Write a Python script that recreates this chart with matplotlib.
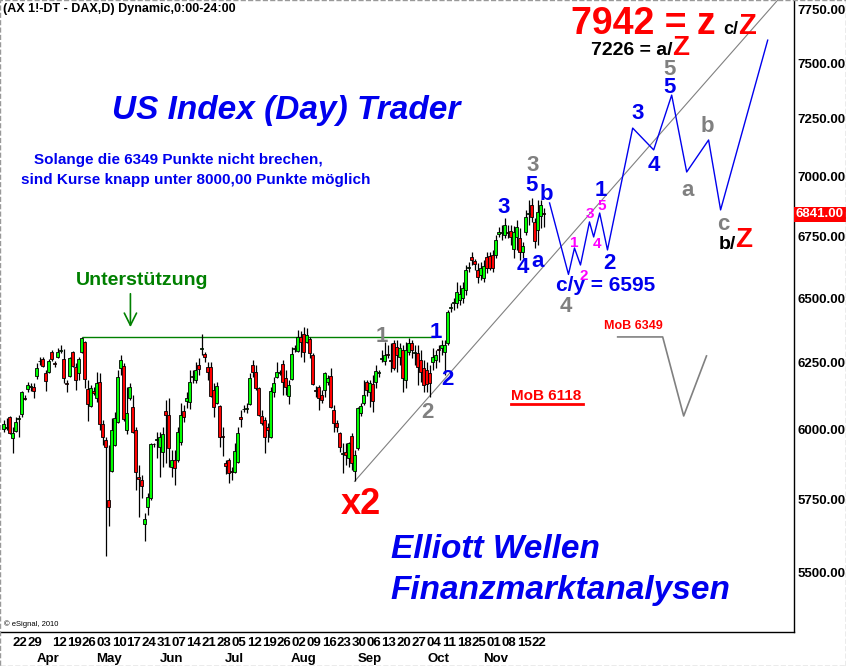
import numpy as np
import matplotlib.pyplot as plt
from matplotlib.patches import Rectangle
from matplotlib.ticker import FixedLocator, NullLocator, FuncFormatter

plt.rcParams['font.family'] = ['Liberation Sans', 'DejaVu Sans']

# daily DAX candles (bar 0 ~ 17 Mar 2010, last bar 22 Nov 2010)
opens = [6004, 6008, 6048, 5971, 5996, 6040, 6059, 6118, 6152, 6160,
         6159, 6200, 6255, 6265, 6212, 6216, 6292, 6248, 6273, 6294,
         6265, 6172, 6200, 6292, 6234, 6212, 6292, 6330, 6152, 6088,
         6142, 6118, 6178, 6022, 5964, 5750, 5853, 5946, 6029, 6230,
         6238, 6000, 6118, 6084, 6000, 5830, 5820, 5667, 5726, 5757,
         5950, 5965, 5939, 5921, 6070, 6055, 5867, 5892, 5892, 5957,
         6070, 6106, 6103, 6195, 6185, 6242, 6303, 6284, 6234, 6234,
         6148, 6099, 6088, 5978, 5881, 5892, 5853, 5849, 5885, 6048,
         6077, 6075, 6096, 6242, 6216, 6155, 6051, 6037, 6011, 5975,
         6140, 6197, 6210, 6245, 6193, 6125, 6189, 6301, 6296, 6349,
         6360, 6330, 6341, 6280, 6146, 6159, 6129, 6148, 6178, 6200,
         6073, 6026, 5989, 5912, 5921, 5900, 5978, 5853, 5935, 6062,
         6099, 6178, 6140, 6170, 6178, 6210, 6265, 6258, 6282, 6262,
         6326, 6311, 6273, 6299, 6185, 6292, 6326, 6288, 6288, 6261,
         6230, 6223, 6212, 6254, 6261, 6301, 6307, 6292, 6326, 6462,
         6482, 6482, 6494, 6502, 6533, 6619, 6665, 6649, 6613, 6593,
         6581, 6665, 6669, 6673, 6673, 6760, 6762, 6755, 6768, 6772,
         6698, 6747, 6743, 6686, 6768, 6840, 6880, 6809, 6776, 6834,
         6845]
highs = [6037, 6044, 6051, 6011, 6048, 6055, 6144, 6129, 6178, 6174,
         6174, 6250, 6273, 6273, 6223, 6265, 6299, 6258, 6307, 6318,
         6303, 6185, 6273, 6296, 6250, 6273, 6349, 6334, 6185, 6166,
         6159, 6216, 6212, 6037, 5975, 5946, 6044, 6066, 6223, 6280,
         6250, 6159, 6174, 6129, 6011, 5874, 5838, 5705, 5775, 5953,
         5953, 5993, 5993, 6011, 6110, 6118, 5928, 5928, 6011, 6099,
         6092, 6140, 6223, 6223, 6254, 6269, 6360, 6292, 6254, 6254,
         6174, 6178, 6092, 6011, 5892, 5900, 5867, 5953, 6011, 6073,
         6092, 6099, 6212, 6261, 6242, 6159, 6073, 6048, 6026, 6159,
         6197, 6254, 6223, 6261, 6223, 6185, 6311, 6318, 6376, 6372,
         6388, 6384, 6349, 6288, 6163, 6166, 6148, 6216, 6204, 6230,
         6092, 6037, 5993, 5953, 5953, 5957, 5989, 5928, 6084, 6099,
         6185, 6185, 6185, 6204, 6242, 6223, 6299, 6330, 6318, 6326,
         6337, 6337, 6326, 6318, 6330, 6345, 6337, 6318, 6318, 6299,
         6261, 6254, 6242, 6307, 6299, 6318, 6337, 6337, 6454, 6482,
         6502, 6565, 6553, 6565, 6633, 6645, 6686, 6657, 6641, 6645,
         6653, 6686, 6686, 6694, 6755, 6788, 6797, 6826, 6797, 6797,
         6792, 6817, 6784, 6727, 6859, 6901, 6910, 6826, 6901, 6901,
         6867]
lows = [5993, 6000, 5986, 5917, 5993, 5975, 6048, 6110, 6140, 6144,
        6118, 6189, 6242, 6234, 6144, 6212, 6258, 6234, 6270, 6288,
        6174, 6140, 6197, 6234, 6148, 6185, 6288, 6155, 6033, 6084,
        6129, 6103, 6000, 5946, 5558, 5660, 5849, 5942, 6026, 6204,
        6033, 5986, 6110, 5989, 5785, 5691, 5757, 5609, 5698, 5750,
        5939, 5900, 5831, 5867, 5881, 5867, 5831, 5803, 5885, 5946,
        6029, 6081, 6077, 6174, 6174, 6204, 6280, 6254, 6185, 6121,
        6048, 6096, 5939, 5906, 5842, 5810, 5820, 5845, 5881, 6011,
        6066, 6062, 6092, 6197, 6148, 6051, 6018, 5917, 5957, 5971,
        6121, 6193, 6204, 6129, 6129, 6096, 6185, 6292, 6292, 6273,
        6254, 6326, 6269, 6166, 6121, 6073, 6099, 6121, 6166, 6081,
        5993, 5993, 5921, 5845, 5874, 5867, 5856, 5815, 5928, 6051,
        6092, 6125, 6084, 6066, 6155, 6197, 6254, 6242, 6269, 6216,
        6223, 6216, 6242, 6140, 6155, 6280, 6269, 6242, 6166, 6178,
        6140, 6140, 6121, 6223, 6230, 6254, 6280, 6204, 6318, 6446,
        6454, 6462, 6474, 6482, 6513, 6605, 6633, 6613, 6561, 6573,
        6565, 6601, 6613, 6605, 6661, 6747, 6735, 6743, 6743, 6714,
        6661, 6694, 6653, 6661, 6755, 6797, 6809, 6702, 6714, 6784,
        6788]
closes = [6022, 6012, 5989, 5989, 6029, 6044, 6140, 6114, 6166, 6163,
          6144, 6230, 6258, 6238, 6182, 6258, 6265, 6245, 6292, 6297,
          6193, 6168, 6269, 6238, 6185, 6265, 6345, 6189, 6096, 6155,
          6138, 6174, 6022, 5975, 5939, 5726, 6000, 6044, 6197, 6261,
          6040, 6062, 6159, 5993, 5849, 5825, 5799, 5684, 5761, 5950,
          5948, 5968, 5975, 5986, 6055, 5935, 5892, 5863, 5993, 6055,
          6048, 6118, 6178, 6199, 6223, 6227, 6305, 6273, 6216, 6125,
          6084, 6163, 5975, 5975, 5871, 5845, 5850, 5924, 5989, 6040,
          6075, 6079, 6193, 6216, 6155, 6055, 6026, 5975, 6000, 6144,
          6174, 6216, 6214, 6178, 6159, 6166, 6284, 6305, 6349, 6330,
          6292, 6357, 6288, 6170, 6142, 6118, 6110, 6212, 6193, 6084,
          6026, 6011, 5939, 5915, 5910, 5953, 5881, 5910, 6081, 6088,
          6129, 6148, 6174, 6106, 6219, 6214, 6269, 6280, 6278, 6258,
          6230, 6280, 6307, 6193, 6299, 6326, 6299, 6292, 6234, 6216,
          6166, 6170, 6174, 6273, 6280, 6297, 6318, 6318, 6446, 6466,
          6486, 6525, 6517, 6541, 6613, 6623, 6653, 6637, 6585, 6621,
          6629, 6621, 6621, 6621, 6735, 6766, 6766, 6797, 6764, 6747,
          6768, 6788, 6686, 6710, 6830, 6845, 6830, 6731, 6850, 6880,
          6841]

week_labels = ['22', '29', '12', '19', '26', '03', '10', '17', '24', '31',
               '07', '14', '21', '28', '05', '12', '19', '26', '02', '09',
               '16', '23', '30', '06', '13', '20', '27', '04', '11', '18',
               '25', '01', '08', '15', '22']
week_idx = [7, 12] + list(range(20, 181, 5))
month_labels = ['Apr', 'May', 'Jun', 'Jul', 'Aug', 'Sep', 'Oct', 'Nov']
month_idx = [14.7, 35, 56, 77, 100, 122, 145, 164]

price_ticks = [5500, 5750, 6000, 6250, 6500, 6750, 7000, 7250, 7500, 7750]
last_price = 6841

support_level = 6349
support_from, support_to = 26, 144

trend_x = [117, 262]
trend_y = [5815, 7857]

# projected wave path (blue)
forecast_x = [182, 188.3, 190.3, 192.3, 195.3, 196.7, 198.7, 201.3,
              209.7, 216.7, 222.7, 227.7, 235, 239, 254.7]
forecast_y = [6888, 6595, 6702, 6633, 6809, 6747, 6846, 6694,
              7209, 7114, 7355, 7019, 7157, 6859, 7605]

# MoB 6349 sketch (gray)
mob_x = [204.7, 219.7, 226.7, 234.3]
mob_y = [6349, 6349, 6051, 6276]

BLUE = '#0000ee'
GRAY = '#808080'
RED = '#ff0000'
MAG = '#ff00ff'
GREEN = '#008000'

fig = plt.figure(figsize=(8.46, 6.66), dpi=100)
ax = fig.add_axes([0.5 / 846, 34 / 666, 793 / 846, 632 / 666])

idx = np.arange(len(closes))
o = np.array(opens, dtype=float)
c = np.array(closes, dtype=float)
up = c >= o
ax.vlines(idx, lows, highs, color='black', lw=0.9, zorder=2)
ax.bar(idx, np.maximum(np.abs(c - o), 2), bottom=np.minimum(o, c), width=0.85,
       color=np.where(up, '#00ff00', '#ff0000'), edgecolor='black', lw=0.6, zorder=3)

ax.hlines(support_level, support_from, support_to, color=GREEN, lw=1, zorder=1)
ax.plot(trend_x, trend_y, color=GRAY, lw=0.8, zorder=1)
ax.plot(forecast_x, forecast_y, color=BLUE, lw=1)
ax.plot(mob_x, mob_y, color=GRAY, lw=1.2)

ax.set_yscale('log')
ax.set_ylim(5306, 7793)
ax.set_xlim(-1, 263.3)
ax.yaxis.tick_right()
ax.yaxis.set_major_locator(FixedLocator(price_ticks))
ax.yaxis.set_minor_locator(NullLocator())
ax.yaxis.set_major_formatter(FuncFormatter(lambda v, p: '%.2f' % v))
ax.tick_params(axis='y', length=0, pad=3, labelsize=9.5)
plt.setp(ax.get_yticklabels(), fontweight='bold')
ax.set_xticks([])
for s in ['left', 'top']:
    ax.spines[s].set_visible(False)
for s in ['right', 'bottom']:
    ax.spines[s].set_color('black')
    ax.spines[s].set_linewidth(1)

xt = ax.get_xaxis_transform()
for i, lab in zip(week_idx, week_labels):
    ax.text(i - 1.5, -0.0174, lab, transform=xt, ha='center', va='center',
            fontsize=9.5, fontweight='bold', clip_on=False)
for i, lab in zip(month_idx, month_labels):
    ax.text(i, -0.0427, lab, transform=xt, ha='center', va='center',
            fontsize=9.5, fontweight='bold', clip_on=False)

ax.text(1.003, last_price, '%.2f' % last_price, transform=ax.get_yaxis_transform(),
        ha='left', va='center', color='white', fontsize=9.5, fontweight='bold',
        bbox=dict(facecolor=RED, edgecolor='none', pad=1.2), clip_on=False)

ax.text(2 / 793, (632 - 9) / 632, '(AX 1!-DT - DAX,D) Dynamic,0:00-24:00',
        transform=ax.transAxes, ha='left', va='center', fontsize=9, fontweight='bold')
ax.text(3 / 793, (632 - 624) / 632, '\u00a9 eSignal, 2010', transform=ax.transAxes,
        ha='left', va='center', fontsize=5.5)

# headline texts
ax.text(36.3, 7288, 'US Index (Day) Trader', color=BLUE, fontsize=24,
        fontweight='bold', fontstyle='italic', va='center')
ax.text(10, 7070, 'Solange die 6349 Punkte nicht brechen,', color=BLUE, fontsize=11,
        fontweight='bold', va='center')
ax.text(5.7, 6985, 'sind Kurse knapp unter 8000,00 Punkte m\u00f6glich', color=BLUE,
        fontsize=11, fontweight='bold', va='center')
ax.text(129, 5578, 'Elliott Wellen', color=BLUE, fontsize=24, fontweight='bold',
        fontstyle='italic', va='center')
ax.text(129, 5443, 'Finanzmarktanalysen', color=BLUE, fontsize=24, fontweight='bold',
        fontstyle='italic', va='center')

ax.text(24, 6569, 'Unterst\u00fctzung', color=GREEN, fontsize=14, fontweight='bold', va='center')
ax.annotate('', xy=(42.3, 6376), xytext=(42.3, 6529),
            arrowprops=dict(arrowstyle='->', color=GREEN, lw=1.2, mutation_scale=22))

ax.text(119, 5733, 'x2', color=RED, fontsize=26, fontweight='bold', ha='center', va='center')
ax.text(169, 6125, 'MoB 6118', color=RED, fontsize=11, fontweight='bold', va='center')
ax.plot([169, 193.3], [6096, 6096], color=RED, lw=2)
ax.text(200, 6392, 'MoB 6349', color=RED, fontsize=9, fontweight='bold', va='center')

ax.text(189, 7682, '7942 = z', color=RED, fontsize=27, fontweight='bold', va='center')
ax.text(240, 7656, 'c/', color='black', fontsize=13, fontweight='bold', va='center')
ax.text(245, 7671, 'Z', color=RED, fontsize=21, fontweight='bold', va='center')
ax.text(195.7, 7559, '7226 = a/', color='black', fontsize=14, fontweight='bold', va='center')
ax.text(223, 7568, 'Z', color=RED, fontsize=20, fontweight='bold', va='center')
ax.text(238.3, 6715, 'b/', color='black', fontsize=14, fontweight='bold', va='center')
ax.text(244, 6735, 'Z', color=RED, fontsize=20, fontweight='bold', va='center')
ax.text(184, 6549, 'c/y = 6595', color=BLUE, fontsize=15, fontweight='bold', va='center')

# wave counts
wave_labels = [
    (126, 6349, '1', GRAY), (144, 6368, '1', BLUE), (148, 6185, '2', BLUE),
    (141.3, 6062, '2', GRAY), (166.7, 6868, '3', BLUE), (173, 6621, '4', BLUE),
    (176, 6960, '5', BLUE), (176.3, 7045, '3', GRAY), (181, 6922, 'b', BLUE),
    (178, 6649, 'a', BLUE), (187.3, 6466, '4', GRAY), (199, 6942, '1', BLUE),
    (202, 6637, '2', BLUE), (211.3, 7271, '3', BLUE), (216.7, 7045, '4', BLUE),
    (222, 7472, '5', GRAY), (222, 7387, '5', BLUE), (228, 6940, 'a', GRAY),
    (234.7, 7214, 'b', GRAY), (240, 6797, 'c', GRAY),
]
for x, y, t, col in wave_labels:
    ax.text(x, y, t, color=col, fontsize=16, fontweight='bold', ha='center', va='center')

sub_waves = [(190.3, 6723, '1'), (193.3, 6589, '2'), (195.3, 6842, '3'),
             (197.7, 6719, '4'), (199.3, 6876, '5')]
for x, y, t in sub_waves:
    ax.text(x, y, t, color=MAG, fontsize=11, fontweight='bold', ha='center', va='center')

fig.patches.append(Rectangle((0, 0), 1, 1, transform=fig.transFigure, fill=False,
                             edgecolor='#999999', linestyle='--', lw=1))

fig.savefig('out.png', dpi=100)
